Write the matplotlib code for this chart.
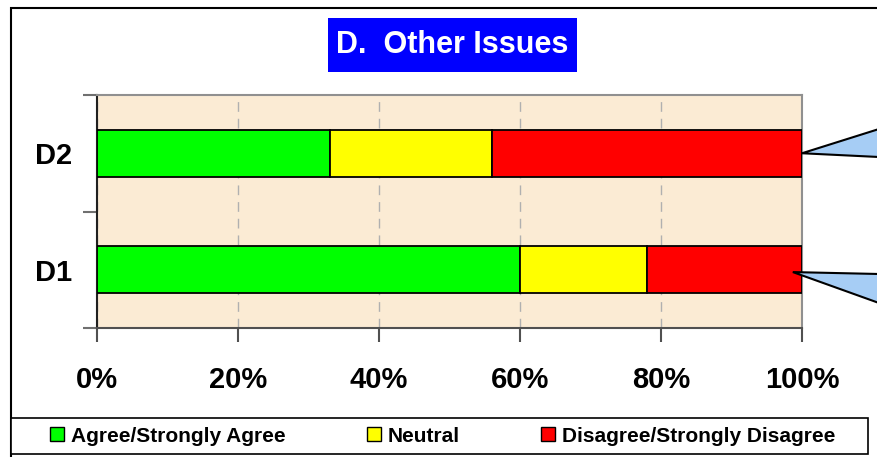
import numpy as np
import matplotlib.pyplot as plt
from matplotlib.patches import Rectangle, Polygon

# survey shares (%) per question
questions = ['D1', 'D2']
agree = [60, 33]
neutral = [18, 23]
disagree = [22, 44]
series_names = ['Agree/Strongly Agree', 'Neutral', 'Disagree/Strongly Disagree']
series_colors = ['#00FF00', '#FFFF00', '#FF0000']
xticks = [0, 20, 40, 60, 80, 100]

plt.rcParams['font.family'] = ['Liberation Sans', 'DejaVu Sans']

W, H = 877, 457
fig = plt.figure(figsize=(W / 100, H / 100), dpi=100)
fig.patch.set_facecolor('white')

# outer chart border
fig.add_artist(Rectangle((11 / W, -0.1), 1.2, 1 - 8 / H + 0.1, transform=fig.transFigure,
                         fill=False, edgecolor='black', linewidth=1.5))

ax = fig.add_axes([97 / W, (H - 328) / H, 705 / W, 233 / H])
ax.set_facecolor('#FBEBD4')

y = np.arange(len(questions))
left = np.zeros(len(questions))
for vals, name, col in zip([agree, neutral, disagree], series_names, series_colors):
    ax.barh(y, vals, left=left, height=0.4, color=col, edgecolor='black',
            linewidth=1.3, label=name, zorder=3)
    left += np.array(vals)

ax.set_xlim(0, 100)
ax.set_ylim(-0.5, len(questions) - 0.5)
ax.set_xticks(xticks)
ax.set_xticklabels([f'{v}%' for v in xticks], fontsize=21, fontweight='bold')
ax.set_yticks(y)
ax.set_yticklabels(questions, fontsize=21, fontweight='bold')
ax.set_yticks(np.arange(-0.5, len(questions)), minor=True)
ax.tick_params(axis='y', which='major', length=0, pad=18)
ax.tick_params(axis='y', which='minor', length=10, color='#707070', width=1.5)
ax.tick_params(axis='x', length=10, color='#505050', width=1.5, pad=17)
ax.grid(axis='x', color='#B0B0B0', linestyle=(0, (7, 5)), linewidth=1, zorder=1)
for side in ['top', 'right']:
    ax.spines[side].set_color('#909090')
    ax.spines[side].set_linewidth(1.5)
ax.spines['left'].set_color('#202020')
ax.spines['bottom'].set_color('#505050')
ax.spines['left'].set_linewidth(1.5)
ax.spines['bottom'].set_linewidth(1.5)

# title in blue box
fig.add_artist(Rectangle((328 / W, 1 - 72 / H), 249 / W, 54 / H, transform=fig.transFigure,
                         facecolor='#0000FF', edgecolor='none'))
fig.text(452.5 / W, 1 - 45 / H, 'D.  Other Issues', color='white', fontsize=22,
         fontweight='bold', ha='center', va='center')

# callout pointers coming in from the right edge
fig.canvas.draw()
inv = fig.transFigure.inverted()
callouts = [(100, 1, [(W + 2, 129), (W + 2, 157)]), (98.7, -0.02, [(W + 2, 274), (W + 2, 303)])]
for tx, ty, ends in callouts:
    tip = inv.transform(ax.transData.transform((tx, ty)))
    pts = [tip] + [(ex / W, 1 - ey / H) for ex, ey in ends]
    fig.add_artist(Polygon(pts, closed=True, transform=fig.transFigure, facecolor='#A6CDF5',
                           edgecolor='black', linewidth=1.5, clip_on=False))

# legend box
fig.add_artist(Rectangle((11 / W, 1 - 454 / H), 857 / W, 36 / H, transform=fig.transFigure,
                         facecolor='white', edgecolor='black', linewidth=1.2))
handles, labels = ax.get_legend_handles_labels()
leg = fig.legend(handles, labels, loc='center', bbox_to_anchor=(443 / W, 1 - 436 / H), ncol=3,
                 frameon=False, prop={'size': 15, 'weight': 'bold'}, handlelength=0.65,
                 handleheight=0.65, handletextpad=0.35, columnspacing=3.9, borderpad=0)
for h in leg.legend_handles:
    h.set_linewidth(1.0)

fig.savefig('out.png', dpi=100, facecolor='white')
